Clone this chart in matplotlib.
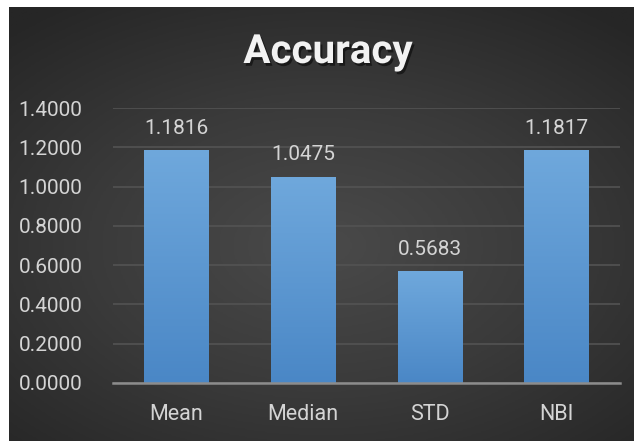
import numpy as np
import matplotlib
matplotlib.use("Agg")
from matplotlib import pyplot as plt
from matplotlib import patheffects as pe
from matplotlib.colors import LinearSegmentedColormap

categories = ["Mean", "Median", "STD", "NBI"]
values = [1.1816, 1.0475, 0.5683, 1.1817]
y_ticks = [0.0, 0.2, 0.4, 0.6, 0.8, 1.0, 1.2, 1.4]

W, H = 634, 441
fig = plt.figure(figsize=(W / 100, H / 100), dpi=100)
fig.patch.set_facecolor("white")

# dark radial background panel
bg = fig.add_axes([9 / W, 0, (W - 9) / W, (H - 7) / H])
yy, xx = np.mgrid[-1:1:300j, -1:1:400j]
r = np.sqrt((xx * 0.9) ** 2 + ((yy - 0.1) * 1.0) ** 2)
bg_cmap = LinearSegmentedColormap.from_list("bg", ["#4a4a4a", "#3a3a3a", "#262626"])
bg.imshow(r, cmap=bg_cmap, aspect="auto", extent=(0, 1, 0, 1), vmin=0, vmax=1.35)
bg.set_axis_off()

ax = fig.add_axes([113 / W, (H - 383) / H, (620 - 113) / W, (383 - 108) / H])
ax.patch.set_alpha(0)
x = np.arange(len(categories))
bars = ax.bar(x, values, width=0.51, color="none", zorder=3)

txt_color = "#d4d4d4"
bar_cmap = LinearSegmentedColormap.from_list("bar", ["#4a87c6", "#6fa8dc"])
grad = np.linspace(0, 1, 256).reshape(-1, 1)
for b in bars:
    x0, w, h = b.get_x(), b.get_width(), b.get_height()
    ax.imshow(grad, cmap=bar_cmap, origin="lower", aspect="auto",
              extent=(x0, x0 + w, 0, h), zorder=3)
    ax.text(x0 + w / 2, h + 0.065, f"{h:.4f}", ha="center", va="bottom",
            fontsize=15, color=txt_color, family="Roboto")
ax.set_xlim(-0.5, len(categories) - 0.5)
ax.set_ylim(0, 1.4)

ax.set_yticks(y_ticks)
ax.set_yticklabels([f"{t:.4f}" for t in y_ticks])
ax.set_xticks(x)
ax.set_xticklabels(categories)
ax.grid(axis="y", color="#535353", linewidth=1.2, zorder=0)
for s in ["top", "right", "left"]:
    ax.spines[s].set_visible(False)
ax.spines["bottom"].set_color("#8c8c8c")
ax.spines["bottom"].set_linewidth(1.8)
ax.spines["bottom"].set_zorder(4)
ax.tick_params(length=0, colors=txt_color)
ax.tick_params(axis="x", labelsize=15.5, pad=15)
ax.tick_params(axis="y", labelsize=15, pad=22)
for lbl in ax.get_xticklabels() + ax.get_yticklabels():
    lbl.set_family("Roboto")

fig.text(328 / W, 1 - 52 / H, "Accuracy", ha="center", va="center",
         fontsize=29, fontweight="bold", color="#f2f2f2", family="Roboto",
         path_effects=[pe.withSimplePatchShadow(offset=(1.5, -2), shadow_rgbFace="black", alpha=0.5)])

fig.savefig("out.png", dpi=100)
